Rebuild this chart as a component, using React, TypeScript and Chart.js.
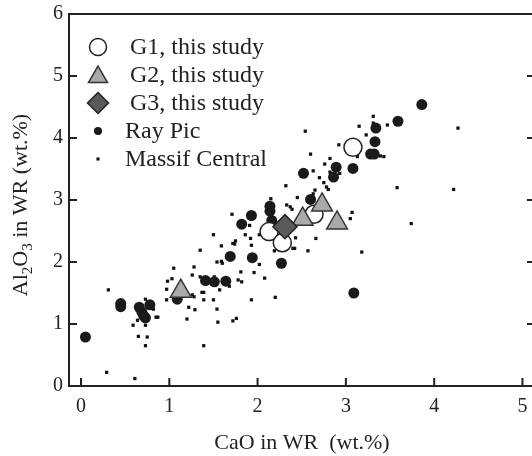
import React, { useEffect, useRef } from "react";
import { Chart, registerables } from "chart.js";

Chart.register(...registerables);

// Axis ticks
const xTicks = [0, 1, 2, 3, 4, 5];
const yTicks = [0, 1, 2, 3, 4, 5, 6];

// G1, this study
const g1CaO = [3.08, 2.64, 2.13, 2.28];
const g1Al = [3.85, 2.77, 2.49, 2.31];

// G2, this study
const g2CaO = [1.13, 2.51, 2.73, 2.9];
const g2Al = [1.53, 2.69, 2.92, 2.63];

// G3, this study
const g3CaO = [2.31];
const g3Al = [2.57];

// Ray Pic
const rpCaO = [0.05, 0.45, 0.45, 0.66, 0.69, 0.71, 0.73, 0.78, 1.09, 1.41, 1.51, 1.64, 1.69, 1.94, 1.82, 1.93, 2.14, 2.14, 2.16, 2.27, 2.52, 2.6, 2.86, 2.89, 3.08, 3.28, 3.32, 3.33, 3.34, 3.59, 3.86, 3.09];
const rpAl = [0.79, 1.33, 1.28, 1.27, 1.19, 1.13, 1.1, 1.31, 1.4, 1.7, 1.68, 1.69, 2.09, 2.07, 2.61, 2.75, 2.9, 2.82, 2.67, 1.98, 3.43, 3.01, 3.37, 3.53, 3.51, 3.74, 3.74, 3.94, 4.16, 4.27, 4.54, 1.5];

// Massif Central
const mcCaO = [0.31, 0.29, 0.61, 0.59, 0.65, 0.75, 0.73, 0.73, 0.64, 0.73, 0.82, 0.85, 0.87, 0.97, 0.98, 1.05, 1.03, 0.97, 1.2, 1.22, 1.26, 1.28, 1.29, 1.28, 1.35, 1.35, 1.39, 1.39, 1.39, 1.5, 1.51, 1.5, 1.54, 1.59, 1.54, 1.55, 1.57, 1.6, 1.59, 1.68, 1.71, 1.72, 1.75, 1.74, 1.72, 1.76, 1.78, 1.82, 1.81, 1.86, 1.91, 1.93, 1.96, 1.92, 1.93, 2.02, 2.08, 2.02, 2.19, 2.2, 2.15, 2.4, 2.57, 2.43, 2.33, 2.37, 2.39, 3.31, 3.31, 3.15, 3.47, 3.23, 4.27, 2.54, 2.92, 3.13, 3.39, 3.43, 2.6, 2.82, 2.76, 2.63, 2.82, 2.93, 2.7, 2.32, 2.75, 2.78, 2.8, 3.58, 4.22, 2.65, 2.63, 2.45, 3.07, 3.05, 3.74, 2.66, 2.42, 3.18, 1.26, 1.37];
const mcAl = [1.55, 0.22, 0.12, 0.98, 0.8, 0.79, 0.65, 0.98, 1.06, 1.4, 1.24, 1.11, 1.11, 1.56, 1.69, 1.9, 1.73, 1.39, 1.08, 1.27, 1.79, 1.92, 1.23, 1.44, 2.19, 1.76, 1.51, 1.39, 0.65, 2.44, 1.76, 1.39, 2.0, 2.01, 1.24, 1.03, 1.55, 1.98, 2.26, 1.61, 2.77, 2.3, 2.34, 2.29, 1.05, 1.09, 1.71, 1.68, 1.84, 2.44, 2.59, 1.39, 1.83, 2.38, 2.27, 1.96, 1.74, 2.44, 2.18, 1.43, 3.02, 2.22, 2.18, 2.39, 2.92, 2.89, 2.85, 4.35, 4.24, 4.19, 4.21, 4.05, 4.16, 4.11, 3.89, 3.7, 3.71, 3.7, 3.74, 3.67, 3.58, 3.47, 3.45, 3.43, 3.36, 3.23, 3.28, 3.21, 3.17, 3.2, 3.17, 3.16, 3.1, 3.04, 2.8, 2.7, 2.62, 2.38, 2.22, 2.16, 1.47, 1.51];

const FONT = "'Liberation Serif', 'Times New Roman', serif";
const INK = "#222";

const pts = (xs: number[], ys: number[]) => xs.map((x, i) => ({ x, y: ys[i] }));

function drawMarker(ctx: CanvasRenderingContext2D, style: string, x: number, y: number, r: number, fill: string, stroke: string, lw: number) {
  ctx.beginPath();
  if (style === "circle") {
    ctx.arc(x, y, r, 0, Math.PI * 2);
  } else if (style === "triangle") {
    for (let k = 0; k < 3; k++) {
      const a = -Math.PI / 2 + (k * 2 * Math.PI) / 3;
      const px = x + Math.cos(a) * r;
      const py = y + Math.sin(a) * r;
      if (k === 0) ctx.moveTo(px, py);
      else ctx.lineTo(px, py);
    }
    ctx.closePath();
  } else if (style === "rectRot") {
    ctx.moveTo(x, y - r);
    ctx.lineTo(x + r, y);
    ctx.lineTo(x, y + r);
    ctx.lineTo(x - r, y);
    ctx.closePath();
  } else {
    const s = Math.SQRT1_2 * r;
    ctx.rect(x - s, y - s, 2 * s, 2 * s);
  }
  ctx.fillStyle = fill;
  ctx.fill();
  if (lw > 0) {
    ctx.strokeStyle = stroke;
    ctx.lineWidth = lw;
    ctx.stroke();
  }
}

function drawRich(ctx: CanvasRenderingContext2D, parts: { t: string; sub?: boolean }[], cx: number, cy: number, size: number) {
  const subSize = size * 0.68;
  let total = 0;
  parts.forEach((p) => {
    ctx.font = `${p.sub ? subSize : size}px ${FONT}`;
    total += ctx.measureText(p.t).width;
  });
  let x = cx - total / 2;
  ctx.textBaseline = "alphabetic";
  ctx.textAlign = "left";
  parts.forEach((p) => {
    ctx.font = `${p.sub ? subSize : size}px ${FONT}`;
    ctx.fillText(p.t, x, cy + size * 0.33 + (p.sub ? size * 0.22 : 0));
    x += ctx.measureText(p.t).width;
  });
}

const decorPlugin = {
  id: "decor",
  afterDatasetsDraw(chart: any) {
    const { ctx, chartArea: a, scales, width } = chart;
    const xs = scales.x;
    const ys = scales.y;
    ctx.save();
    // frame
    ctx.strokeStyle = INK;
    ctx.lineWidth = 2;
    ctx.beginPath();
    ctx.moveTo(width + 2, a.top);
    ctx.lineTo(a.left, a.top);
    ctx.lineTo(a.left, a.bottom);
    ctx.lineTo(width + 2, a.bottom);
    ctx.stroke();
    ctx.beginPath();
    xs.ticks.forEach((t: any) => {
      const p = xs.getPixelForValue(t.value);
      ctx.moveTo(p, a.bottom);
      ctx.lineTo(p, a.bottom - 8);
    });
    ys.ticks.forEach((t: any) => {
      const p = ys.getPixelForValue(t.value);
      ctx.moveTo(a.left, p);
      ctx.lineTo(a.left + 8, p);
      ctx.moveTo(width, p);
      ctx.lineTo(width - 5, p);
    });
    ctx.stroke();

    // tick labels (from the scales' ticks)
    ctx.fillStyle = INK;
    ctx.font = `20px ${FONT}`;
    ctx.textBaseline = "middle";
    ctx.textAlign = "center";
    xs.ticks.forEach((t: any) => {
      ctx.fillText(String(t.value), xs.getPixelForValue(t.value), a.bottom + 21);
    });
    ctx.textAlign = "right";
    ys.ticks.forEach((t: any) => {
      ctx.fillText(String(t.value), a.left - 6, ys.getPixelForValue(t.value));
    });

    // axis titles
    drawRich(ctx, [{ t: "CaO in WR  (wt.%)" }], 302, 442, 22);
    ctx.save();
    ctx.translate(20, 205);
    ctx.rotate(-Math.PI / 2);
    drawRich(ctx, [{ t: "Al" }, { t: "2", sub: true }, { t: "O" }, { t: "3", sub: true }, { t: " in WR (wt.%)" }], 0, 0, 22);
    ctx.restore();

    // legend
    const rows = [47, 75, 103, 131, 159];
    const lg = [
      { r: 8.5, tx: 130 },
      { r: 11, tx: 130 },
      { r: 10.5, tx: 130 },
      { r: 4, tx: 125 },
      { r: 2.2, tx: 125 },
    ];
    chart.data.datasets.forEach((ds: any, i: number) => {
      const y = rows[i];
      drawMarker(ctx, ds.pointStyle, 98, i === 1 ? y + 2 : y, lg[i].r, ds.backgroundColor, ds.borderColor, ds.borderWidth);
      ctx.fillStyle = INK;
      ctx.font = `24px ${FONT}`;
      ctx.textAlign = "left";
      ctx.textBaseline = "middle";
      ctx.fillText(ds.label, lg[i].tx, y + 1);
    });
    ctx.restore();
  },
};

export default function App() {
  const ref = useRef<HTMLCanvasElement | null>(null);
  useEffect(() => {
    if (!ref.current) return;
    const chart = new Chart(ref.current, {
      type: "scatter",
      data: {
        datasets: [
          { label: "G1, this study", data: pts(g1CaO, g1Al), pointStyle: "circle", pointRadius: 9, backgroundColor: "#ffffff", borderColor: INK, borderWidth: 1.5, order: 3 },
          { label: "G2, this study", data: pts(g2CaO, g2Al), pointStyle: "triangle", pointRadius: 12, backgroundColor: "#a9a9a9", borderColor: "#333", borderWidth: 1.5, order: 2 },
          { label: "G3, this study", data: pts(g3CaO, g3Al), pointStyle: "rectRot", pointRadius: 12, backgroundColor: "#5a5a5a", borderColor: INK, borderWidth: 1.5, order: 1 },
          { label: "Ray Pic", data: pts(rpCaO, rpAl), pointStyle: "circle", pointRadius: 5.5, backgroundColor: "#1a1a1a", borderColor: "#1a1a1a", borderWidth: 0, order: 4 },
          { label: "Massif Central", data: pts(mcCaO, mcAl), pointStyle: "rect", pointRadius: 2.3, backgroundColor: "#111", borderColor: "#111", borderWidth: 0, order: 5 },
        ] as any,
      },
      options: {
        animation: false,
        responsive: false,
        events: [],
        layout: { autoPadding: false, padding: { top: 14, right: 0, left: 0, bottom: 0 } },
        plugins: { legend: { display: false }, tooltip: { enabled: false } },
        scales: {
          x: {
            type: "linear",
            min: -0.136,
            max: 5.108,
            grid: { display: false, drawTicks: false },
            border: { display: false },
            ticks: { display: false },
            afterBuildTicks: (s: any) => {
              s.ticks = xTicks.map((v) => ({ value: v }));
            },
            afterFit: (s: any) => {
              s.height = 70;
            },
          },
          y: {
            type: "linear",
            min: 0,
            max: 6,
            grid: { display: false, drawTicks: false },
            border: { display: false },
            ticks: { display: false },
            afterBuildTicks: (s: any) => {
              s.ticks = yTicks.map((v) => ({ value: v }));
            },
            afterFit: (s: any) => {
              s.width = 69;
            },
          },
        },
      },
      plugins: [decorPlugin],
    });
    return () => chart.destroy();
  }, []);

  return (
    <div style={{ position: "absolute", left: 0, top: 0, width: 532, height: 456, overflow: "hidden", background: "#fff" }}>
      <canvas ref={ref} width={532} height={456} style={{ display: "block" }} />
    </div>
  );
}
